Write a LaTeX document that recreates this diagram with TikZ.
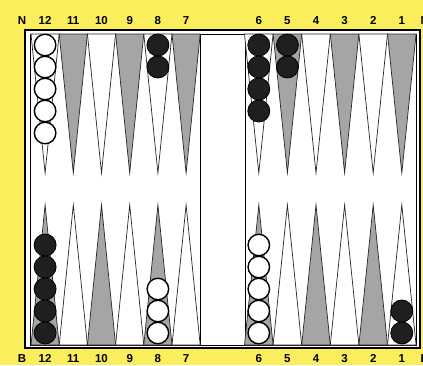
\documentclass[tikz,border=0pt]{standalone}
\usepackage{fontspec}
\setmainfont{Liberation Sans}

\definecolor{boardyellow}{RGB}{250,238,92}
\definecolor{pointgray}{RGB}{165,165,165}

\begin{document}
\begin{tikzpicture}[x=1pt,y=-1pt,font=\fontsize{11.5}{13}\selectfont\bfseries,
 pnt/.style={draw=black!85,line width=.7pt},
 dark/.style={pnt,fill=pointgray},
 light/.style={pnt,fill=white},
 wchk/.style={circle,draw=black,line width=1.4pt,fill=white,minimum size=21.5pt,inner sep=0pt},
 bchk/.style={circle,draw=black,line width=.8pt,fill=black!88,minimum size=22pt,inner sep=0pt},
 num/.style={inner sep=0pt,anchor=base}]
\fill[boardyellow] (0,0) rectangle (423,365);
\useasboundingbox (0,0) rectangle (423,365);
% board frame and bar
\draw[line width=1.4pt,fill=white] (25,30) rectangle (420,348);
\draw[line width=.8pt] (30,34) rectangle (416,345);
\draw[line width=.5pt] (200,34)--(200,345) (245,34)--(245,345);
% points, both halves
\foreach \i/\ts/\bs in {0/light/dark,1/dark/light,2/light/dark,3/dark/light,4/light/dark,5/dark/light}{
 \pgfmathsetmacro\xl{31+28.2*\i}
 \pgfmathsetmacro\xr{244.5+28.6*\i}
 \pgfmathtruncatemacro\nl{12-\i}
 \pgfmathtruncatemacro\nr{6-\i}
 \draw[\ts] (\xl,34)--++(28.2,0)--(\xl+14.1,173)--cycle;
 \draw[\bs] (\xl,345)--++(28.2,0)--(\xl+14.1,205)--cycle;
 \draw[\ts] (\xr,34)--++(28.6,0)--(\xr+14.3,173)--cycle;
 \draw[\bs] (\xr,345)--++(28.6,0)--(\xr+14.3,205)--cycle;
 \node[num] (top\nl) at (\xl+14.1,24.5) {\nl};
 \node[num] (bot\nl) at (\xl+14.1,362.5) {\nl};
 \node[num] (top\nr) at (\xr+14.3,24.5) {\nr};
 \node[num] (bot\nr) at (\xr+14.3,362.5) {\nr};
}
\node[num] (north) at (22,24.5) {N};
\node[num] (south) at (22,362.5) {B};
\node[num,anchor=base west] (northr) at (420.5,24.5) {N};
\node[num,anchor=base west] (southr) at (420.5,362.5) {B};
% checkers
\foreach \p/\x/\c/\k in {12/45.1/wchk/5,8/157.9/bchk/2,6/258.8/bchk/4,5/287.4/bchk/2}
 \foreach \j in {1,...,\k} \node[\c] (t\p-\j) at (\x,23+22*\j) {};
\foreach \p/\x/\c/\k in {12/45.1/bchk/5,8/157.9/wchk/3,6/258.8/wchk/5,1/401.8/bchk/2}
 \foreach \j in {1,...,\k} \node[\c] (b\p-\j) at (\x,355-22*\j) {};
\end{tikzpicture}
\end{document}
